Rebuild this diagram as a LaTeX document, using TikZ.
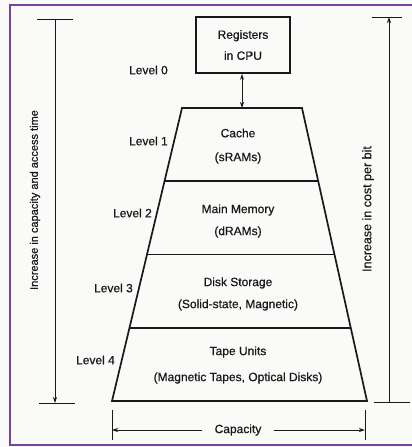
\documentclass[tikz,border=0pt]{standalone}
\usepackage{fontspec}
\setmainfont{Liberation Sans}[UprightFeatures={FakeBold=0.6}]
\usetikzlibrary{arrows.meta,calc}
\definecolor{framepurple}{RGB}{122,66,160}
\definecolor{paper}{RGB}{250,250,249}
\definecolor{ink}{RGB}{25,25,25}
\begin{document}
\begin{tikzpicture}[x=1pt,y=-1pt,
  txt/.style={font=\fontsize{12}{21}\selectfont, text=ink, inner sep=0pt},
  lvl/.style={txt, anchor=east},
  heavy/.style={draw=ink, line width=1.7pt},
  thin/.style={draw=ink, line width=0.8pt},
  tip/.style={-{Stealth[length=6pt,width=4pt]}},
  dimtick/.style={draw=ink, line width=1pt}]
\useasboundingbox (0,0) rectangle (412,447);
\fill[paper] (0,0) rectangle (412,447);
% frame
\draw[framepurple, line width=2.5pt] (414,5) -- (10,5) -- (10,445) -- (414,445);

% level 0: registers
\node[txt, heavy, align=center, minimum width=94pt, minimum height=56pt, fill=paper] (reg) at (243,45) {Registers\\in CPU};

% trapezoid corners
\coordinate (tl) at (182,108);
\coordinate (tr) at (302,108);
\coordinate (bl) at (112,401);
\coordinate (br) at (367,401);
\coordinate (l1) at ($(tl)!0.25!(bl)$);
\coordinate (r1) at ($(tr)!0.25!(br)$);
\coordinate (l2) at ($(tl)!0.5!(bl)$);
\coordinate (r2) at ($(tr)!0.5!(br)$);
\coordinate (l3) at ($(tl)!0.75!(bl)$);
\coordinate (r3) at ($(tr)!0.75!(br)$);
\draw[heavy] (tl) -- (tr) -- (br) -- (bl) -- cycle;
\draw[heavy] (l1) -- (r1);
\draw[heavy] (l2) -- (r2);
\draw[heavy] (l3) -- (r3);
\coordinate (trapmid) at ($(tl)!0.5!(tr)$);

% link registers <-> cache
\draw[thin, {Stealth[length=6pt,width=4pt]}-{Stealth[length=6pt,width=4pt]}] (reg.south -| trapmid) -- (trapmid);

% contents
\node[txt] (c1) at (238,133) {Cache};
\node[txt] (c2) at (238,158) {(sRAMs)};
\node[txt] (m1) at (238,210) {Main Memory};
\node[txt] (m2) at (238,232) {(dRAMs)};
\node[txt] (d1) at (238,283) {Disk Storage};
\node[txt] (d2) at (238,305) {(Solid-state, Magnetic)};
\node[txt] (t1) at (238,352) {Tape Units};
\node[txt] (t2) at (238,378) {(Magnetic Tapes, Optical Disks)};

% level labels
\node[lvl] (L0) at (168,70) {Level 0};
\node[lvl] (L1) at (168,141) {Level 1};
\node[lvl] (L2) at (152,213) {Level 2};
\node[lvl] (L3) at (133,288) {Level 3};
\node[lvl] (L4) at (115,360) {Level 4};

% left dimension: capacity and access time
\coordinate (lta) at (37,19);  \coordinate (ltb) at (73,19);
\coordinate (lba) at (39,403); \coordinate (lbb) at (75,403);
\coordinate (ltop) at (55,19); \coordinate (lbot) at (55,403);
\draw[dimtick] (lta) -- (ltb);
\draw[dimtick] (lba) -- (lbb);
\draw[thin, tip] (ltop) -- (lbot);
\node[txt, font=\fontsize{11}{13}\selectfont, rotate=90] (lefttxt) at (35,200) {Increase in capacity and access time};

% right dimension: cost per bit
\coordinate (rta) at (372,17); \coordinate (rtb) at (402,17);
\coordinate (rba) at (374,402); \coordinate (rbb) at (410,402);
\coordinate (rtop) at (389,17); \coordinate (rbot) at (389,402);
\draw[dimtick] (rta) -- (rtb);
\draw[dimtick] (rba) -- (rbb);
\draw[thin, tip] (rbot) -- (rtop);
\node[txt, font=\fontsize{12.5}{14}\selectfont, rotate=90] (righttxt) at (368,209) {Increase in cost per bit};

% bottom dimension: capacity
\coordinate (cla) at (112,410); \coordinate (clb) at (112,440);
\coordinate (cra) at (365,410); \coordinate (crb) at (365,440);
\coordinate (cl) at (112,430);  \coordinate (cr) at (365,430);
\draw[dimtick] (cla) -- (clb);
\draw[dimtick] (cra) -- (crb);
\node[txt] (cap) at (238,430) {Capacity};
\draw[thin, tip] ([xshift=-12pt]cap.west) -- (cl);
\draw[thin, tip] ([xshift=12pt]cap.east) -- (cr);
\end{tikzpicture}
\end{document}
